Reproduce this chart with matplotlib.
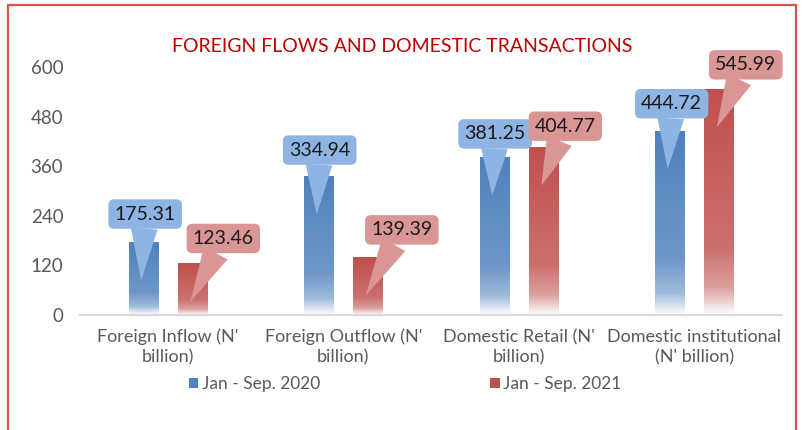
import numpy as np
import matplotlib
matplotlib.use("Agg")
import matplotlib.pyplot as plt
import matplotlib.transforms as mtransforms
from matplotlib.patches import Rectangle
from matplotlib.colors import to_rgb

categories = ["Foreign Inflow (N'\nbillion)", "Foreign Outflow (N'\nbillion)",
              "Domestic Retail (N'\nbillion)", "Domestic institutional\n(N' billion)"]
series_names = ["Jan - Sep. 2020", "Jan - Sep. 2021"]
values_2020 = [175.31, 334.94, 381.25, 444.72]
values_2021 = [123.46, 139.39, 404.77, 545.99]
yticks = [0, 120, 240, 360, 480, 600]

bar_cols = ["#4f81bd", "#c0504d"]
box_cols = ["#8db4e2", "#da9694"]
grey = "#595959"
fam = ["Lato", "DejaVu Sans"]

fig = plt.figure(figsize=(8.04, 4.30), dpi=100)
ax = fig.add_axes([80 / 804, 1 - 315 / 430, 702 / 804, 248 / 430])


def gradient_bar(x, h, width, color):
    # vertical fade: solid at top, white at the bottom
    n = 200
    f = np.linspace(0, 1, n)
    a = np.interp(f, [0, 0.12, 0.3, 1], [0.0, 0.55, 0.82, 1.0])
    base = np.array(to_rgb(color))
    img = (1 - a[:, None]) * np.ones(3) + a[:, None] * base
    img = np.repeat(img[:, None, :], 2, axis=1)
    ax.imshow(img, extent=[x - width / 2, x + width / 2, 0, h], origin="lower",
              aspect="auto", zorder=2, interpolation="bilinear")


x = np.arange(len(categories))
width = 0.167
offs = [-0.14, 0.14]
# callout text offsets (pixels) from the pointer tip
label_off = [[(4, 58), (3, 56), (3, 53), (4, 57)],
             [(33, 55), (36, 57), (24, 51), (29, 54)]]

for s, vals in enumerate([values_2020, values_2021]):
    for i, v in enumerate(vals):
        xi = x[i] + offs[s]
        gradient_bar(xi, v, width, bar_cols[s])
        tip = mtransforms.offset_copy(ax.transData, fig=fig, x=-2, y=-38, units="dots")
        ax.annotate(f"{v:.2f}", xy=(xi, v), xycoords=tip,
                    xytext=label_off[s][i], textcoords="offset pixels",
                    ha="center", va="bottom", fontsize=14, color="#1a1a1a",
                    family=fam, zorder=5,
                    bbox=dict(boxstyle="round,pad=0.32,rounding_size=0.3",
                              fc=box_cols[s], ec="none"),
                    arrowprops=dict(arrowstyle="wedge,tail_width=1.2,shrink_factor=0.5",
                                    fc=box_cols[s], ec="none", mutation_scale=16,
                                    shrinkA=0, shrinkB=0))

ax.set_xlim(-0.5, 3.5)
ax.set_ylim(0, 600)
ax.set_yticks(yticks)
ax.set_xticks(x)
ax.set_xticklabels(categories, family=fam, fontsize=13, color=grey, linespacing=1.3)
for lab in ax.get_yticklabels():
    lab.set_family(fam)
    lab.set_fontsize(13.5)
    lab.set_color(grey)
ax.tick_params(length=0)
ax.tick_params(axis="y", pad=12)
ax.tick_params(axis="x", pad=10)
for sp in ["top", "right", "left"]:
    ax.spines[sp].set_visible(False)
ax.spines["bottom"].set_color("#d9d9d9")
ax.spines["bottom"].set_linewidth(1.5)

fig.text(0.5, 1 - 46 / 430, "FOREIGN FLOWS AND DOMESTIC TRANSACTIONS", ha="center",
         va="center", color="#c00000", fontsize=14, family=fam)

handles = [Rectangle((0, 0), 1, 1, fc=c, ec="none") for c in bar_cols]
fig.legend(handles, series_names, loc="center", bbox_to_anchor=(0.504, 1 - 384 / 430),
           ncol=2, frameon=False, prop={"family": fam, "size": 12.5},
           labelcolor=grey, handlelength=0.55, handleheight=0.55, handletextpad=0.2,
           columnspacing=9.8)

fig.add_artist(Rectangle((8 / 804, -0.1), 788 / 804, 1.1 - 5 / 430, transform=fig.transFigure,
                         fill=False, ec="#d9534f", lw=1.6))

fig.savefig("out.png", dpi=100)
